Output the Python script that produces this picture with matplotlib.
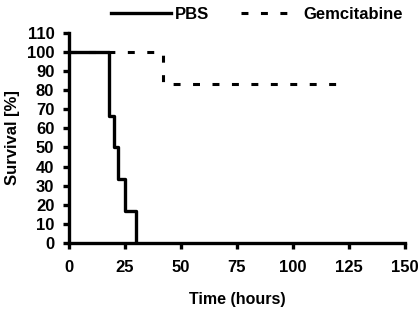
import matplotlib
matplotlib.use("Agg")
import matplotlib.pyplot as plt

plt.rcParams['font.family'] = ['Liberation Sans', 'DejaVu Sans']
plt.rcParams['font.weight'] = 'bold'
plt.rcParams['lines.scale_dashes'] = False

# Kaplan-Meier steps (hours, % survival)
pbs_time = [0, 18, 20, 22, 25, 30]
pbs_surv = [100, 66.7, 50, 33.3, 16.7, 0]
gem_time = [0, 42, 120]
gem_surv = [100, 83.3, 83.3]

x_ticks = [0, 25, 50, 75, 100, 125, 150]
y_ticks = list(range(0, 111, 10))

fig = plt.figure(figsize=(4.2, 3.13), dpi=100)
ax = fig.add_axes([0.164, 0.224, 0.8, 0.671])

gem_line, = ax.step(gem_time, gem_surv, where='post', color='black', lw=2.2,
                    dashes=(5, 9), label='Gemcitabine')
pbs_line, = ax.step(pbs_time, pbs_surv, where='post', color='black', lw=2.4,
                    label='PBS')

ax.set_xlim(0, 150)
ax.set_ylim(0, 110)
ax.set_xticks(x_ticks)
ax.set_yticks(y_ticks)
for s in ['top', 'right']:
    ax.spines[s].set_visible(False)
for s in ['left', 'bottom']:
    ax.spines[s].set_linewidth(2.4)
ax.tick_params(width=2.4, length=4.5, labelsize=12)
ax.tick_params(axis='y', pad=6)
ax.tick_params(axis='x', pad=8)
for lab in ax.get_xticklabels() + ax.get_yticklabels():
    lab.set_fontweight('bold')

ax.set_xlabel('Time (hours)', fontsize=11.5, fontweight='bold', labelpad=12)
ax.set_ylabel('Survival [%]', fontsize=12, fontweight='bold', labelpad=5)

fig.legend([pbs_line], ['PBS'], loc='upper left', bbox_to_anchor=(0.245, 1.005),
           frameon=False, fontsize=12, borderpad=0, handlelength=3.6,
           handletextpad=0.2)
fig.legend([gem_line], ['Gemcitabine'], loc='upper left',
           bbox_to_anchor=(0.555, 1.005), frameon=False, fontsize=12,
           borderpad=0, handlelength=2.8, handletextpad=0.9)

fig.savefig('out.png', dpi=100)
